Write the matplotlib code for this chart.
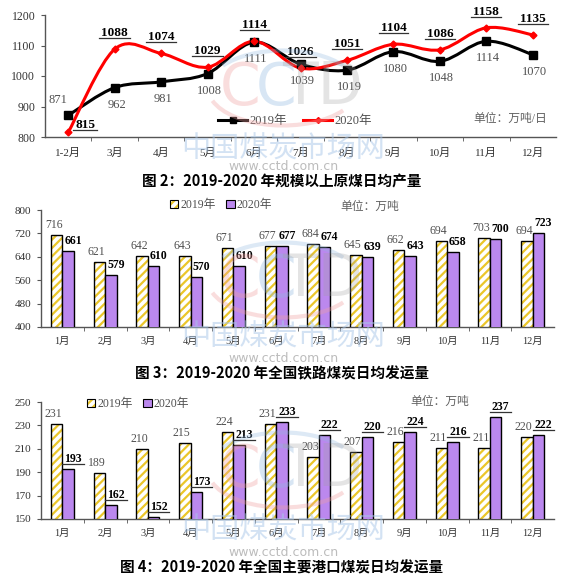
import numpy as np
import matplotlib
matplotlib.use('Agg')
import matplotlib.pyplot as plt
from matplotlib.path import Path
from matplotlib.patches import PathPatch, Patch, Arc
from matplotlib.lines import Line2D

plt.rcParams['font.family'] = ['Liberation Serif', 'Noto Sans CJK SC']
plt.rcParams['hatch.linewidth'] = 1.6

# 图2 规模以上原煤日均产量（万吨/日）
months1 = ['1-2月', '3月', '4月', '5月', '6月', '7月', '8月', '9月', '10月', '11月', '12月']
out_2019 = [871, 962, 981, 1008, 1111, 1039, 1019, 1080, 1048, 1114, 1070]
out_2020 = [815, 1088, 1074, 1029, 1114, 1026, 1051, 1104, 1086, 1158, 1135]

# 图3 全国铁路煤炭日均发运量（万吨）
months = ['1月', '2月', '3月', '4月', '5月', '6月', '7月', '8月', '9月', '10月', '11月', '12月']
rail_2019 = [716, 621, 642, 643, 671, 677, 684, 645, 662, 694, 703, 694]
rail_2020 = [661, 579, 610, 570, 610, 677, 674, 639, 643, 658, 700, 723]

# 图4 全国主要港口煤炭日均发运量（万吨）
port_2019 = [231, 189, 210, 215, 224, 231, 203, 207, 216, 211, 211, 220]
port_2020 = [193, 162, 152, 173, 213, 233, 222, 220, 224, 216, 237, 222]

W, H = 564, 577
fig = plt.figure(figsize=(W / 100, H / 100), dpi=100)


def fx(px):
    return px / W


def fy(py):
    return 1 - py / H


PURPLE = '#BB88EE'
YELLOW = '#EBC62A'
underlined = []


def smooth_path(x, y):
    # excel style smoothed line: bezier through every point
    x = np.asarray(x, float)
    y = np.asarray(y, float)
    n = len(x)
    verts = [(x[0], y[0])]
    codes = [Path.MOVETO]
    for i in range(n - 1):
        a = max(i - 1, 0)
        b = min(i + 2, n - 1)
        verts.append((x[i] + (x[i + 1] - x[a]) / 6, y[i] + (y[i + 1] - y[a]) / 6))
        verts.append((x[i + 1] - (x[b] - x[i]) / 6, y[i + 1] - (y[b] - y[i]) / 6))
        verts.append((x[i + 1], y[i + 1]))
        codes += [Path.CURVE4] * 3
    return Path(verts, codes)


def style_axis(ax, n, tick_size, label_size, label_pad):
    for s in ['top', 'right']:
        ax.spines[s].set_visible(False)
    for s in ['left', 'bottom']:
        ax.spines[s].set_color('#555555')
        ax.spines[s].set_linewidth(1)
    ax.set_xlim(-0.5, n - 0.5)
    ax.set_xticks(np.arange(n))
    ax.set_xticks(np.arange(0.5, n - 0.5, 1), minor=True)
    ax.tick_params(axis='x', which='major', length=0, pad=label_pad,
                   labelsize=label_size, labelcolor='#333333')
    ax.tick_params(axis='x', which='minor', length=3, color='#555555', direction='out')
    ax.tick_params(axis='y', length=3, color='#555555', labelsize=tick_size,
                   labelcolor='#333333', pad=4)
    ax.patch.set_alpha(0)


def watermark(cy_logo, cy_cn, cy_www):
    # faint CCTD logo and site name over each chart
    fig.text(fx(240), fy(cy_logo), 'C', fontsize=42, color='#F0A0A0', alpha=0.35,
             ha='center', va='center', family='DejaVu Sans')
    fig.text(fx(276), fy(cy_logo), 'C', fontsize=42, color='#90B8E0', alpha=0.35,
             ha='center', va='center', family='DejaVu Sans')
    fig.text(fx(322), fy(cy_logo), 'TD', fontsize=42, color='#A0A0A0', alpha=0.28,
             ha='center', va='center', family='DejaVu Sans')
    fig.add_artist(Arc((fx(283), fy(cy_logo)), fx(150), 75 / H, theta1=20, theta2=160,
                       color='#90B8E0', alpha=0.3, lw=3))
    fig.add_artist(Arc((fx(283), fy(cy_logo)), fx(150), 75 / H, theta1=190, theta2=340,
                       color='#F0A0A0', alpha=0.35, lw=3))
    fig.text(fx(283), fy(cy_cn), '中国煤炭市场网', fontsize=21, color='#A8C6E8', alpha=0.5,
             ha='center', va='center', family='Noto Sans CJK SC')
    fig.text(fx(284), fy(cy_www), 'www.cctd.com.cn', fontsize=9, color='#A0A0A0', alpha=0.7,
             ha='center', va='center', family='DejaVu Sans')


# ---------------- 图2 line chart ----------------
ax1 = fig.add_axes([fx(45), fy(137), fx(556) - fx(45), (137 - 15) / H])
x1 = np.arange(len(months1))
ax1.add_patch(PathPatch(smooth_path(x1, out_2019), fill=False, edgecolor='black', lw=2.2, zorder=3))
ax1.add_patch(PathPatch(smooth_path(x1, out_2020), fill=False, edgecolor='#FF0000', lw=2.2, zorder=4))
ax1.plot(x1, out_2019, ls='none', marker='s', ms=6, color='black', zorder=5)
ax1.plot(x1, out_2020, ls='none', marker='D', ms=3.5, color='#FF0000', zorder=6)
ax1.set_ylim(800, 1200)
ax1.set_yticks(np.arange(800, 1201, 100))
ax1.set_xticklabels(months1)
style_axis(ax1, len(months1), 8.5, 8, 8)

for i, v in enumerate(out_2019):
    off = (-10, 15) if i == 0 else (2, -17)
    ax1.annotate(str(v), (x1[i], v), xytext=off, textcoords='offset pixels',
                 ha='center', va='center', fontsize=9, color='#505050', zorder=7)
for i, v in enumerate(out_2020):
    off = (17, 7) if i == 0 else (0, 16)
    t = ax1.annotate(str(v), (x1[i], v), xytext=off, textcoords='offset pixels',
                     ha='center', va='center', fontsize=9.5, weight='bold', color='black', zorder=7)
    underlined.append(t)

ax1.legend(handles=[Line2D([], [], color='black', lw=2.2, marker='s', ms=5),
                    Line2D([], [], color='#FF0000', lw=2.2, marker='D', ms=3)],
           labels=['2019年', '2020年'], ncol=2, frameon=False, fontsize=9,
           handlelength=2.3, handletextpad=0.2, columnspacing=1.3, labelcolor='#505050',
           loc='center', bbox_to_anchor=(fx(295), fy(121)), bbox_transform=fig.transFigure)
fig.text(fx(510), fy(119), '单位：万吨/日', fontsize=8.5, color='#606060', ha='center', va='center')
fig.text(0.5, fy(182), '图 2：2019-2020 年规模以上原煤日均产量', fontsize=10.5, weight='bold',
         ha='center', va='center', family=['Noto Sans CJK SC'])
watermark(88, 150, 166)


# ---------------- 图3 / 图4 bar charts ----------------
def bar_chart(top, bottom, v19, v20, ylim, ystep, leg_c, unit_c, title, title_y, under):
    ax = fig.add_axes([fx(41), fy(bottom), fx(554) - fx(41), (bottom - top) / H])
    x = np.arange(len(months))
    w = 0.27
    ax.bar(x - w / 2, v19, w, color='white', edgecolor=YELLOW, hatch='////', lw=0, zorder=2)
    ax.bar(x - w / 2, v19, w, fill=False, edgecolor='black', lw=1, zorder=3)
    ax.bar(x + w / 2, v20, w, color=PURPLE, edgecolor='black', lw=1, zorder=3)
    ax.set_ylim(*ylim)
    ax.set_yticks(np.arange(ylim[0], ylim[1] + 1, ystep))
    ax.set_xticklabels(months)
    style_axis(ax, len(months), 8, 7.5, 7)
    for i in range(len(months)):
        ax.annotate(str(v19[i]), (x[i] - w / 2, v19[i]), xytext=(-3, 10), textcoords='offset pixels',
                    ha='center', va='center', fontsize=8.5, color='#505050', zorder=6)
        t = ax.annotate(str(v20[i]), (x[i] + w / 2, v20[i]), xytext=(5, 10), textcoords='offset pixels',
                        ha='center', va='center', fontsize=8.5, weight='bold', color='black', zorder=6)
        if under:
            underlined.append(t)
    h19 = (Patch(facecolor='white', edgecolor=YELLOW, hatch='////', lw=0),
           Patch(fill=False, edgecolor='black', lw=0.8))
    h20 = Patch(facecolor=PURPLE, edgecolor='black', lw=0.8)
    ax.legend(handles=[h19, h20], labels=['2019年', '2020年'], ncol=2, frameon=False,
              fontsize=8.5, handlelength=0.7, handleheight=0.7, handletextpad=0.15,
              columnspacing=0.9, labelcolor='#505050', loc='center',
              bbox_to_anchor=(fx(leg_c[0]), fy(leg_c[1])), bbox_transform=fig.transFigure)
    fig.text(fx(unit_c[0]), fy(unit_c[1]), '单位：万吨', fontsize=8.5, color='#606060',
             ha='center', va='center')
    fig.text(0.5, fy(title_y), title, fontsize=10.5, weight='bold',
             ha='center', va='center', family=['Noto Sans CJK SC'])
    return ax


bar_chart(210, 327, rail_2019, rail_2020, (400, 800), 80, (221, 205), (370, 207),
          '图 3：2019-2020 年全国铁路煤炭日均发运量', 373, False)
watermark(280, 338, 358)
bar_chart(402, 519, port_2019, port_2020, (150, 250), 20, (138, 404), (440, 402),
          '图 4：2019-2020 年全国主要港口煤炭日均发运量', 567, True)
watermark(470, 531, 552)

# underline the 2020 labels
fig.canvas.draw()
inv = fig.transFigure.inverted()
for t in underlined:
    bb = t.get_window_extent()
    p0 = inv.transform((bb.x0 - 2, bb.y0 + 1))
    p1 = inv.transform((bb.x1 + 2, bb.y0 + 1))
    fig.add_artist(Line2D([p0[0], p1[0]], [p0[1], p1[1]], color='#333333', lw=0.9))

fig.savefig('out.png', dpi=100)
